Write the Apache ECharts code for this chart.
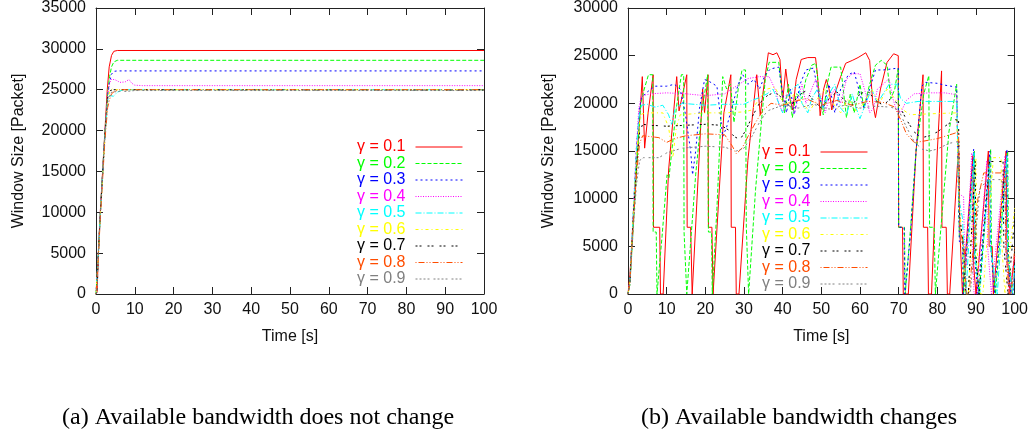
<!DOCTYPE html>
<html>
<head>
<meta charset="utf-8">
<script src="https://cdn.jsdelivr.net/npm/echarts@6/dist/echarts.min.js"></script>
<style>
html,body{margin:0;padding:0;background:#fff;}
#chart{width:1031px;height:433px;}
</style>
</head>
<body>
<div id="chart"></div>
<script>
// ---------- labels ----------
const seriesNames = ['γ = 0.1','γ = 0.2','γ = 0.3','γ = 0.4','γ = 0.5','γ = 0.6','γ = 0.7','γ = 0.8','γ = 0.9'];
const captionA = '(a) Available bandwidth does not change';
const captionB = '(b) Available bandwidth changes';
const xTitle = 'Time [s]';
const yTitle = 'Window Size [Packet]';

// ---------- (a) available bandwidth does not change : [time s, window packets] ----------
const a01 = [[0,0],[0.3,300],[0.6,5000],[1.1,10000],[1.7,15000],[2.3,20000],[2.9,25000],[3.4,27800],[4,29200],[4.6,29700],[5.5,29800],[100,29800]];
const a02 = [[0,0],[0.3,200],[0.6,4800],[1.1,9800],[1.7,14800],[2.3,19800],[3,24500],[3.5,26600],[4,27800],[4.6,28400],[5.5,28600],[100,28600]];
const a03 = [[0,0],[0.3,200],[0.6,4700],[1.1,9700],[1.7,14800],[2.3,19700],[3,24300],[3.5,26000],[4,26900],[4.6,27250],[5.5,27300],[100,27300]];
const a04 = [[0,0],[0.3,200],[0.6,4700],[1.1,9600],[1.7,14700],[2.3,19600],[3,24200],[3.5,25800],[4,26300],[5,26200],[6.2,25900],[7.5,25950],[8.5,26250],[9.2,25800],[10,25550],[12,25500],[100,25500]];
const a05 = [[0,0],[0.3,200],[0.6,4600],[1.1,9500],[1.7,14500],[2.3,19400],[3,23500],[3.5,24300],[4,24400],[4.5,24200],[5.5,24700],[7,25000],[100,25000]];
const a06 = [[0,0],[0.3,200],[0.6,4600],[1.1,9400],[1.7,14400],[2.3,19300],[3,23800],[3.6,24900],[4.2,25100],[5,25000],[100,25000]];
const a07 = [[0,0],[0.3,300],[0.6,4900],[1.1,9700],[1.7,14600],[2.3,19500],[3,24000],[3.7,24900],[4.5,25000],[100,24950]];
const a08 = [[0,0],[0.3,200],[0.6,4400],[1.1,9200],[1.7,14000],[2.3,18800],[3,22800],[3.5,23800],[4,24500],[5,24900],[6,25000],[100,25000]];
const a09 = [[0,0],[0.3,300],[0.6,5200],[1.1,9900],[1.7,14700],[2.3,19400],[3,23500],[4,24700],[6,24800],[8,24800],[10,24900],[100,24900]];

// ---------- (b) available bandwidth changes ----------
const b01 = [[0,0],[0.5,2000],[2,12000],[3.7,22800],[4.3,15300],[5.2,19000],[6.5,23000],[6.6,7000],[8.2,7000],[8.4,0],[9.1,0],[10.5,13000],[12.6,22800],[13.2,19200],[15.2,23000],[15.3,7000],[16.2,7000],[16.6,0],[17.0,0],[19.3,21500],[19.8,19000],[20.7,23000],[20.8,7000],[21.7,7000],[22.0,0],[22.5,0],[24.8,19000],[26.6,23000],[26.7,7000],[27.8,7000],[28.0,0],[28.7,0],[31,14000],[33.3,23000],[34.2,18800],[35.2,22000],[36.3,25300],[37.5,25100],[38.5,25300],[39.3,24600],[40.0,20200],[40.8,23600],[41.6,21000],[42.6,19300],[43.5,22500],[44.8,24600],[46.5,24800],[48.5,24800],[49.0,23000],[49.7,18700],[50.6,21500],[51.3,22500],[52.0,21500],[52.7,19300],[53.5,21000],[55.0,22800],[56.3,24200],[58,24500],[59.5,24800],[61.5,25300],[62.5,24500],[63.3,20000],[64,18500],[65.3,21500],[67,24300],[68.7,25200],[69.9,25000],[70.0,7000],[71.0,7000],[71.2,0],[72.5,0],[74.5,15000],[76.3,23000],[76.4,7000],[77.5,7000],[77.7,0],[78.5,0],[80.0,15000],[81.1,23400],[81.2,7000],[82.3,7000],[82.6,0],[83.2,0],[85.5,15500],[85.8,7000],[86.3,7000],[86.5,0],[87,0],[89.2,14500],[89.4,3000],[90,0],[90.5,0],[93.2,15000],[93.4,5000],[94.2,5000],[94.5,0],[95,0],[97.8,15000],[98.0,5000],[98.8,0],[99.3,0],[100,4000]];
const b02 = [[0,0],[0.5,1000],[1.5,8000],[2.5,15000],[3.3,20000],[4.2,21500],[5.3,23000],[6.4,23000],[6.5,6500],[7.3,6500],[7.5,0],[7.9,0],[8.8,6000],[10.1,12500],[10.6,12200],[11.2,14500],[12.5,19500],[13.8,23000],[14.4,23000],[14.5,6500],[15.0,6500],[15.2,0],[15.5,0],[17.5,12500],[19.2,19500],[20.6,23000],[20.8,6500],[21.6,6500],[21.8,0],[22.1,0],[23,9000],[24.5,22800],[25.5,21500],[26.5,22000],[27.4,18000],[28.5,21500],[29.5,23500],[30.4,23500],[30.6,7000],[31.0,7000],[31.2,0],[31.6,0],[33,11000],[34.6,18500],[35.5,22500],[36.5,24300],[39,24300],[39.8,21000],[40.5,19000],[41.5,22000],[42.5,18500],[43.5,21000],[45,20500],[46,22500],[47.5,24000],[48.6,24200],[49.5,21000],[50.5,18800],[51.5,22000],[52.5,23800],[55,23800],[55.8,21000],[56.5,18500],[57.5,21000],[58.5,19000],[60,22000],[61,19500],[62.5,22000],[64,24000],[65.5,24500],[67,24000],[68,20500],[69,21500],[69.9,23700],[70,7000],[71.5,7000],[71.7,0],[72,0],[73,6500],[74.5,15000],[76.5,21000],[77.8,22900],[78,7000],[79.2,7000],[79.5,0],[80,0],[83,17000],[85,22000],[85.5,22000],[85.7,6000],[86.6,6000],[86.8,0],[87.3,0],[89.6,15000],[89.8,4000],[90.8,0],[91.2,0],[93.8,15200],[94,4500],[95,0],[95.4,0],[98.2,15000],[98.4,4000],[99.4,0],[100,0]];
const b03 = [[0,0],[0.5,1500],[1.3,8000],[2.2,15500],[3.0,19500],[3.5,20600],[5,21200],[7,21800],[10,21800],[12,22000],[13.5,21500],[14.8,19000],[16.2,15000],[16.7,12500],[17.5,15000],[18.5,19500],[19.8,22500],[21,22300],[23,21800],[23.8,19000],[24.5,16500],[25.5,17500],[26.5,19000],[27.5,20500],[28.5,22000],[29.7,23000],[31,22000],[32.6,22500],[34,21500],[35.5,23000],[36.8,23600],[39,23800],[40,21000],[41,19000],[42,21500],[43,18800],[44.5,22000],[46,23500],[48,23700],[49.5,20500],[50.5,19500],[52,22000],[53.5,19000],[55,21500],[57,23000],[58.5,23300],[60,21000],[61,19500],[62.5,21500],[64,23500],[66,23500],[68,23600],[69.9,23700],[70,7000],[71.4,7000],[71.6,0],[72.1,0],[73,6000],[74.5,15000],[76,21800],[77,22200],[80,22100],[82,21900],[85,21700],[85.5,21500],[85.7,5500],[86.5,5500],[86.7,0],[87.2,0],[89.4,15200],[89.6,4000],[90.5,0],[91,0],[93.6,15000],[93.8,5000],[94.8,0],[95.2,0],[98,15200],[98.2,5000],[99,0],[99.6,0],[100,2500]];
const b04 = [[0,0],[0.5,1500],[1.3,8000],[2.2,15500],[2.8,19500],[3.5,20800],[6,21000],[10,21100],[15,21000],[20,20800],[25,21000],[28,21800],[31,22600],[34,22800],[36.5,22800],[38,21500],[39,20000],[40,19000],[41,21000],[42,20500],[43,19000],[44,20500],[45,22000],[46,20000],[47,21000],[48.5,22500],[50,20500],[51,19000],[52,20500],[53.5,21500],[55,20000],[56.5,22500],[58,23100],[60,23100],[61.5,21000],[62.5,19000],[63.5,19500],[64.5,21500],[66,22000],[67.5,22600],[68.5,20500],[69.5,19200],[70.5,19000],[72,20300],[74,21000],[78,21100],[82,21100],[85,20900],[85.6,10500],[86.8,10200],[87,5000],[87.5,3000],[88.9,14800],[89.1,4000],[89.5,0],[90.2,0],[92.8,14000],[93,5000],[94,0],[94.5,0],[97.5,14500],[97.7,4500],[98.5,0],[99,0],[100,4000]];
const b05 = [[0,0],[0.5,1500],[1.3,8000],[2.2,15000],[2.8,18500],[3.5,19800],[5,19900],[7,19600],[9,19800],[10.5,18800],[11.3,17800],[12.2,19500],[14,20000],[20,19800],[25,19900],[30,19900],[32,20300],[34,20600],[36,21000],[37.5,21500],[39,20000],[40,19000],[41,20500],[42.5,21500],[44,22000],[45,20000],[46.5,19000],[47.5,20500],[49,21500],[50.5,19500],[52,21000],[53.5,22000],[55,19500],[56.5,18800],[58,21000],[59,19500],[60,18400],[61.5,20000],[63,21500],[64.5,20000],[66,21000],[67.5,22000],[69.5,22000],[70.5,20500],[72,20000],[75,20200],[80,20200],[85,20200],[85.6,9800],[86.5,8000],[87,3000],[87.4,0],[89.5,14800],[89.7,4000],[91,0],[91.5,0],[93.5,14000],[93.7,5000],[95.5,0],[96,0],[98,14500],[98.2,4000],[99.5,0],[100,3000]];
const b06 = [[0,0],[0.5,1500],[1.3,8000],[2.2,14500],[2.9,17800],[3.6,18900],[6,19000],[9,19000],[10.5,17500],[11.6,14300],[12.5,17500],[13.5,18800],[20,19000],[25,19000],[30,19100],[32,19300],[34,20500],[36,21500],[38,21700],[39.5,20500],[41,19800],[43,21000],[45,20000],[47,19200],[49,20500],[51,21500],[53,20000],[55,19000],[57,20500],[59,19200],[61,20000],[63,21500],[65,20000],[67,21500],[69,20500],[70.5,19500],[73,18800],[78,18900],[85,19000],[85.7,9000],[86.7,5000],[87.2,0],[88,0],[90,14300],[90.2,5000],[91.2,0],[91.8,0],[94.5,14300],[96.5,14300],[96.7,5000],[97.5,0],[98,0],[100,9000]];
const b07 = [[0,0],[0.5,1200],[1.3,7500],[2.2,13500],[3,17000],[3.8,17800],[6,17700],[10,17600],[15,17700],[20,17800],[24,17700],[26,17200],[27.5,16500],[29,16200],[30.5,17200],[32,18500],[34,20000],[36,20800],[38,21200],[40,20500],[42,19600],[44,20800],[46,21300],[48,20300],[50,19500],[52,20500],[54,21200],[56,20300],[58,19800],[60,21000],[62,21300],[64,20300],[66,19800],[68,20500],[70,19900],[72,18300],[74,17000],[76,16400],[78,16600],[80,17000],[82,17600],[84.5,18300],[85.5,18200],[85.8,8000],[86.8,5000],[87.3,0],[88,0],[89.8,13900],[90,4000],[90.8,0],[91.3,0],[93.5,13900],[97,13900],[97.2,5000],[98.3,0],[98.8,0],[100,8000]];
const b08 = [[0,0],[0.5,1200],[1.3,7000],[2.2,12500],[3,15800],[3.8,16600],[6,16500],[8,16400],[10,15900],[12,16300],[15,16600],[20,16800],[25,16700],[27,15500],[28,14700],[29.5,15300],[31,16500],[33,18000],[35,19300],[37,20000],[40,19800],[43,20200],[46,20500],[50,19800],[54,20300],[58,19800],[62,20200],[66,20100],[69,19600],[70.5,18300],[72,16800],[74,15900],[76,16000],[80,16300],[84,16800],[85.5,17000],[85.8,7000],[87,4500],[87.5,0],[88.2,0],[90.5,10000],[92,12700],[97.5,12700],[97.7,5000],[98.6,0],[99.2,0],[100,5000]];
const b09 = [[0,0],[0.5,1000],[1.3,6500],[2.2,11500],[3,14000],[4,14300],[8,14300],[10,14800],[14,15300],[20,15500],[25,15400],[28,15000],[30,15300],[32,16500],[34,18000],[36,19200],[40,19800],[44,19500],[48,19900],[52,19400],[56,19800],[60,19500],[64,19700],[68,19600],[70,19300],[72,17500],[74,16000],[76,15200],[78,15000],[80,15200],[83,15800],[85.5,16000],[85.8,6000],[87,4000],[87.5,0],[88.5,0],[91,11000],[93,12000],[96.5,12000],[97.5,11000],[97.8,4500],[99,0],[100,2000]];

const xTicks = {min:0, max:100, interval:10};
const yTicksA = {min:0, max:35000, interval:5000};
const yTicksB = {min:0, max:30000, interval:5000};

const dataA = [a01,a02,a03,a04,a05,a06,a07,a08,a09];
const dataB = [b01,b02,b03,b04,b05,b06,b07,b08,b09];

// ---------- styles ----------
const colors = ['#ff0000','#00ff00','#0000ff','#ff00ff','#00ffff','#ffff00','#000000','#ff4d00','#808080'];
const dashes = ['solid',[4,2],[2,3],[1,1.5],[6,2,1,2],[3,3,1,3],[2,2,2,6],[1,2,6,2,1,2],[2,2,2,2,2,2,2,4]];
const FONT = 'Liberation Sans, Arial, sans-serif';
const AX = '#222';
const plain = v => String(v);

function xAxes(grid){
  return [
    {gridIndex:grid, type:'value', position:'bottom', min:xTicks.min, max:xTicks.max, interval:xTicks.interval,
     axisLine:{show:true, onZero:false, lineStyle:{color:AX, width:1}},
     axisTick:{show:true, inside:true, length:7, lineStyle:{color:AX}},
     axisLabel:{show:true, margin:8, fontSize:16, fontFamily:FONT, color:'#111', formatter:plain},
     splitLine:{show:false},
     name:xTitle, nameLocation:'middle', nameGap:35, nameTextStyle:{fontSize:16, fontFamily:FONT, color:'#111'}},
    {gridIndex:grid, type:'value', position:'top', min:xTicks.min, max:xTicks.max, interval:xTicks.interval,
     axisLine:{show:true, onZero:false, lineStyle:{color:AX, width:1}},
     axisTick:{show:true, inside:true, length:7, lineStyle:{color:AX}},
     axisLabel:{show:false}, splitLine:{show:false}}
  ];
}
function yAxes(grid, t, gap){
  return [
    {gridIndex:grid, type:'value', position:'left', min:t.min, max:t.max, interval:t.interval,
     axisLine:{show:true, onZero:false, lineStyle:{color:AX, width:1}},
     axisTick:{show:true, inside:true, length:7, lineStyle:{color:AX}},
     axisLabel:{show:true, margin:10, fontSize:16, fontFamily:FONT, color:'#111', formatter:plain},
     splitLine:{show:false},
     name:yTitle, nameLocation:'middle', nameGap:gap, nameTextStyle:{fontSize:16, fontFamily:FONT, color:'#111'}},
    {gridIndex:grid, type:'value', position:'right', min:t.min, max:t.max, interval:t.interval,
     axisLine:{show:true, onZero:false, lineStyle:{color:AX, width:1}},
     axisTick:{show:true, inside:true, length:7, lineStyle:{color:AX}},
     axisLabel:{show:false}, splitLine:{show:false}}
  ];
}

const series = [];
dataA.forEach((d,i)=>{
  series.push({type:'line', name:seriesNames[i], xAxisIndex:0, yAxisIndex:0, data:d,
    symbol:'none', showSymbol:false, silent:true, animation:false,
    lineStyle:{color:colors[i], width:1, type:dashes[i]}, itemStyle:{color:colors[i]}});
});
dataB.forEach((d,i)=>{
  series.push({type:'line', name:seriesNames[i], xAxisIndex:2, yAxisIndex:2, data:d,
    symbol:'none', showSymbol:false, silent:true, animation:false,
    lineStyle:{color:colors[i], width:1, type:dashes[i]}, itemStyle:{color:colors[i]}});
});

const legendData = seriesNames.map((n,i)=>({name:n, textStyle:{color:colors[i]},
  lineStyle:{color:colors[i], width:1, type:dashes[i], opacity:1},
  itemStyle:{opacity:0}}));
function legend(right, top){
  return {orient:'vertical', align:'right', right:right, top:top, itemWidth:47, itemHeight:16, itemGap:0.5,
    selectedMode:false, data:legendData, padding:0,
    textStyle:{fontSize:16, fontFamily:FONT, lineHeight:16, padding:[0,5,0,0]}};
}

const captionStyle = {fontFamily:'Liberation Serif, Times New Roman, serif', fontSize:24, fontWeight:'normal', color:'#000'};
const option = {
  backgroundColor:'#ffffff',
  animation:false,
  title:[
    {text:captionA, left:62, top:406, padding:0, textStyle:captionStyle},
    {text:captionB, left:641, top:406, padding:0, textStyle:captionStyle}
  ],
  grid:[
    {left:96, right:547, top:7, bottom:139, show:false},
    {left:628, right:16, top:6, bottom:139, show:false}
  ],
  xAxis:[...xAxes(0), ...xAxes(1)],
  yAxis:[...yAxes(0, yTicksA, 69), ...yAxes(1, yTicksB, 71)],
  legend:[legend(568, 139), legend(163, 144)],
  series:series
};

const chart = echarts.init(document.getElementById('chart'), null, {renderer:'canvas'});
chart.setOption(option);
</script>
</body>
</html>
